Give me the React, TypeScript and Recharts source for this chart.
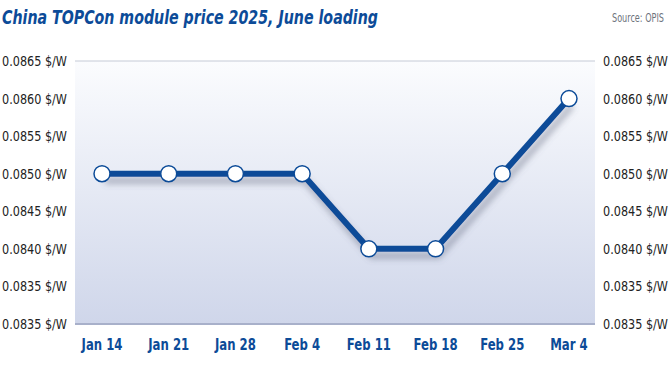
import { CartesianGrid, Line, LineChart, XAxis, YAxis } from "recharts";

const weeks = ["Jan 14", "Jan 21", "Jan 28", "Feb 4", "Feb 11", "Feb 18", "Feb 25", "Mar 4"];
const prices = [0.085, 0.085, 0.085, 0.085, 0.084, 0.084, 0.085, 0.086];
const yTicks = [0.083, 0.0835, 0.084, 0.0845, 0.085, 0.0855, 0.086, 0.0865];
const yTickLabels = [
  "0.0835 $/W",
  "0.0835 $/W",
  "0.0840 $/W",
  "0.0845 $/W",
  "0.0850 $/W",
  "0.0855 $/W",
  "0.0860 $/W",
  "0.0865 $/W",
];

const data = weeks.map((week, i) => ({ week, price: prices[i] }));

const FONT = "'DejaVu Sans Condensed', 'Liberation Sans Narrow', sans-serif";
const BLUE = "#0c4b98";

const yLabel = (v: number) => {
  const i = yTicks.findIndex((t) => Math.abs(t - v) < 1e-7);
  return i >= 0 ? yTickLabels[i] : String(v);
};

// plain svg text so recharts doesn't wrap the labels
const YTick = ({ x, y, payload, side }: any) => (
  <text
    x={side === "left" ? 67 : 603}
    y={y}
    dy={5}
    textAnchor={side === "left" ? "end" : "start"}
    fontFamily={FONT}
    fontSize={14.5}
    fill="#222"
    textLength={65}
    lengthAdjust="spacingAndGlyphs"
  >
    {yLabel(payload.value)}
  </text>
);

const XTick = ({ x, y, payload }: any) => (
  <text
    x={x}
    y={y + 24}
    textAnchor="middle"
    fontFamily={FONT}
    fontSize={15.5}
    fontWeight={700}
    fill={BLUE}
    transform={`translate(${x} 0) scale(0.84 1) translate(${-x} 0)`}
  >
    {payload.value}
  </text>
);

export default function App() {
  return (
    <div style={{ position: "absolute", left: 0, top: 0, width: 669, height: 375, background: "#fff" }}>
      <style>{`.shadow-line { filter: url(#lineShadow); }`}</style>
      <svg width={669} height={40} style={{ position: "absolute", left: 0, top: 0 }}>
        <text
          x={2}
          y={24}
          fontFamily={FONT}
          fontSize={19}
          fontWeight={700}
          fontStyle="italic"
          fill={BLUE}
          textLength={376}
          lengthAdjust="spacingAndGlyphs"
        >
          China TOPCon module price 2025, June loading
        </text>
        <text
          x={664}
          y={22}
          textAnchor="end"
          fontFamily={FONT}
          fontSize={13}
          fill="#6d737c"
          textLength={52}
          lengthAdjust="spacingAndGlyphs"
        >
          Source: OPIS
        </text>
      </svg>
      <LineChart width={669} height={375} data={data} margin={{ top: 61, right: 0, bottom: 0, left: 0 }}>
        <defs>
          <linearGradient id="plotBg" x1="0" y1="0" x2="0" y2="1">
            <stop offset="0%" stopColor="#fbfcfe" />
            <stop offset="100%" stopColor="#cfd6ea" />
          </linearGradient>
          <filter id="lineShadow" x="-10%" y="-20%" width="130%" height="160%">
            <feDropShadow dx="3" dy="7" stdDeviation="3" floodColor="#5a6378" floodOpacity="0.45" />
          </filter>
        </defs>
        <CartesianGrid vertical={false} fill="url(#plotBg)" stroke="#c5cad6" strokeWidth={1} />
        <XAxis
          dataKey="week"
          height={51}
          padding={{ left: 27, right: 26 }}
          axisLine={{ stroke: "#a8b0ca", strokeWidth: 2 }}
          tickLine={false}
          tickSize={0}
          tick={<XTick />}
          interval={0}
        />
        <YAxis
          yAxisId="left"
          orientation="left"
          width={75}
          domain={[0.083, 0.0865]}
          ticks={yTicks}
          axisLine={false}
          tickLine={false}
          tickSize={0}
          tick={<YTick side="left" />}
          interval={0}
        />
        <YAxis
          yAxisId="right"
          orientation="right"
          width={74}
          domain={[0.083, 0.0865]}
          ticks={yTicks}
          axisLine={false}
          tickLine={false}
          tickSize={0}
          tick={<YTick side="right" />}
          interval={0}
        />
        {/* mirror series so the right axis gets its ticks */}
        <Line
          yAxisId="right"
          dataKey="price"
          stroke="none"
          dot={false}
          activeDot={false}
          isAnimationActive={false}
        />
        <Line
          yAxisId="left"
          className="shadow-line"
          type="linear"
          dataKey="price"
          stroke={BLUE}
          strokeWidth={6}
          dot={{ r: 8, fill: "#fff", stroke: BLUE, strokeWidth: 1.5 }}
          activeDot={false}
          isAnimationActive={false}
        />
      </LineChart>
    </div>
  );
}
